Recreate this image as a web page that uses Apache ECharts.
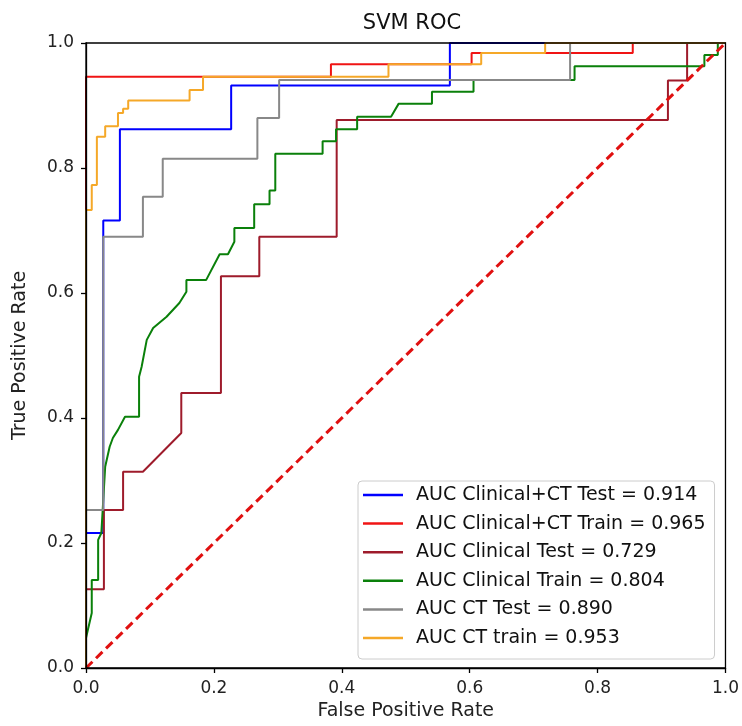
<!DOCTYPE html>
<html>
<head>
<meta charset="utf-8">
<script src="https://cdn.jsdelivr.net/npm/echarts@6/dist/echarts.min.js"></script>
<style>
html,body{margin:0;padding:0;background:#fff;}
#c{width:742px;height:726px;}
</style>
</head>
<body>
<div id="c"></div>
<script>
// ROC curves: [FPR, TPR] points
const clinicalCtTest = [[0,0],[0,0.216],[0.027,0.216],[0.027,0.716],[0.053,0.716],[0.053,0.862],[0.227,0.862],[0.227,0.932],[0.569,0.932],[0.569,1],[1,1]];
const clinicalCtTrain = [[0,0],[0,0.946],[0.383,0.946],[0.383,0.966],[0.603,0.966],[0.603,0.984],[0.855,0.984],[0.855,1],[1,1]];
const clinicalTest = [[0,0],[0,0.126],[0.028,0.126],[0.028,0.253],[0.058,0.253],[0.058,0.314],[0.089,0.314],[0.149,0.376],[0.149,0.44],[0.211,0.44],[0.211,0.627],[0.271,0.627],[0.271,0.69],[0.392,0.69],[0.392,0.877],[0.91,0.877],[0.91,0.94],[0.94,0.94],[0.94,1],[1,1]];
const clinicalTrain = [[0,0],[0,0.048],[0.009,0.088],[0.009,0.141],[0.019,0.141],[0.019,0.205],[0.024,0.216],[0.03,0.322],[0.037,0.354],[0.042,0.368],[0.05,0.381],[0.061,0.402],[0.083,0.402],[0.083,0.466],[0.087,0.482],[0.095,0.525],[0.105,0.544],[0.126,0.562],[0.146,0.584],[0.157,0.602],[0.157,0.621],[0.188,0.621],[0.209,0.662],[0.222,0.662],[0.232,0.682],[0.232,0.704],[0.263,0.704],[0.263,0.742],[0.287,0.742],[0.287,0.764],[0.296,0.764],[0.296,0.823],[0.37,0.823],[0.37,0.843],[0.391,0.843],[0.391,0.862],[0.424,0.862],[0.424,0.882],[0.477,0.882],[0.489,0.903],[0.541,0.903],[0.541,0.922],[0.606,0.922],[0.606,0.941],[0.764,0.941],[0.764,0.963],[0.967,0.963],[0.967,0.981],[0.988,0.981],[0.988,1],[1,1]];
const ctTest = [[0,0],[0,0.253],[0.027,0.253],[0.027,0.69],[0.089,0.69],[0.089,0.754],[0.12,0.754],[0.12,0.815],[0.268,0.815],[0.268,0.88],[0.302,0.88],[0.302,0.941],[0.757,0.941],[0.757,1],[1,1]];
const ctTrain = [[0,0],[0,0.733],[0.009,0.733],[0.009,0.773],[0.017,0.773],[0.017,0.85],[0.03,0.85],[0.03,0.867],[0.05,0.867],[0.05,0.888],[0.058,0.888],[0.058,0.895],[0.066,0.895],[0.066,0.908],[0.162,0.908],[0.162,0.925],[0.183,0.925],[0.183,0.946],[0.473,0.946],[0.473,0.966],[0.618,0.966],[0.618,0.984],[0.718,0.984],[0.718,1],[1,1]];
const chance = [[0,0],[1,1]];

const seriesNames = ['AUC Clinical+CT Test = 0.914','AUC Clinical+CT Train = 0.965','AUC Clinical Test = 0.729','AUC Clinical Train = 0.804','AUC CT Test = 0.890','AUC CT train = 0.953'];
const seriesData = [clinicalCtTest, clinicalCtTrain, clinicalTest, clinicalTrain, ctTest, ctTrain];
const seriesColors = ['#0000ff','#f01414','#9e1b2b','#0a800a','#888888','#f5a828'];

const font = 'DejaVu Sans';
const series = seriesNames.map((n,i)=>({
  name:n, type:'line', data:seriesData[i], symbol:'none', showSymbol:false,
  lineStyle:{color:seriesColors[i], width:2}, itemStyle:{color:seriesColors[i]},
  z: 2+i, animation:false
}));
series.push({
  name:'chance', type:'line', data:chance, symbol:'none', showSymbol:false,
  lineStyle:{color:'#e01010', width:3, type:[9,5]}, z:10, animation:false
});

const chart = echarts.init(document.getElementById('c'));
chart.setOption({
  backgroundColor:'#fff',
  animation:false,
  title:{text:'SVM ROC', left:407, top:8, textAlign:'center',
    textStyle:{fontFamily:font, fontSize:21, fontWeight:'normal', color:'#111'}},
  grid:{left:86, right:14, top:43, bottom:58, show:true, borderColor:'#000', borderWidth:1.3, backgroundColor:'transparent', z:20},
  xAxis:{type:'value', min:0, max:1, interval:0.2, z:20,
    name:'False Positive Rate', nameLocation:'middle', nameGap:34,
    nameTextStyle:{fontFamily:font, fontSize:19, color:'#222'},
    axisLine:{show:true, lineStyle:{color:'#000', width:1.3}},
    axisTick:{show:true, length:5, lineStyle:{color:'#000', width:1.3}},
    axisLabel:{fontFamily:font, fontSize:17, color:'#222', margin:12, formatter:v=>v.toFixed(1)},
    splitLine:{show:false}},
  yAxis:{type:'value', min:0, max:1, interval:0.2, z:20,
    name:'True Positive Rate', nameLocation:'middle', nameGap:56,
    nameTextStyle:{fontFamily:font, fontSize:19, color:'#222'},
    axisLine:{show:true, lineStyle:{color:'#000', width:1.3}},
    axisTick:{show:true, length:5, lineStyle:{color:'#000', width:1.3}},
    axisLabel:{fontFamily:font, fontSize:17, color:'#222', margin:12, formatter:v=>v.toFixed(1)},
    splitLine:{show:false}},
  legend:{data:seriesNames, orient:'vertical', left:358, top:481, icon:'rect',
    padding:[4,9,11,5], itemGap:8.6, itemWidth:40, itemHeight:2.5,
    backgroundColor:'rgba(255,255,255,0.85)', borderColor:'#cccccc', borderWidth:1, borderRadius:4,
    textStyle:{fontFamily:font, fontSize:19, color:'#111', lineHeight:20, padding:[0,0,0,8]}},
  series:series
});
</script>
</body>
</html>
